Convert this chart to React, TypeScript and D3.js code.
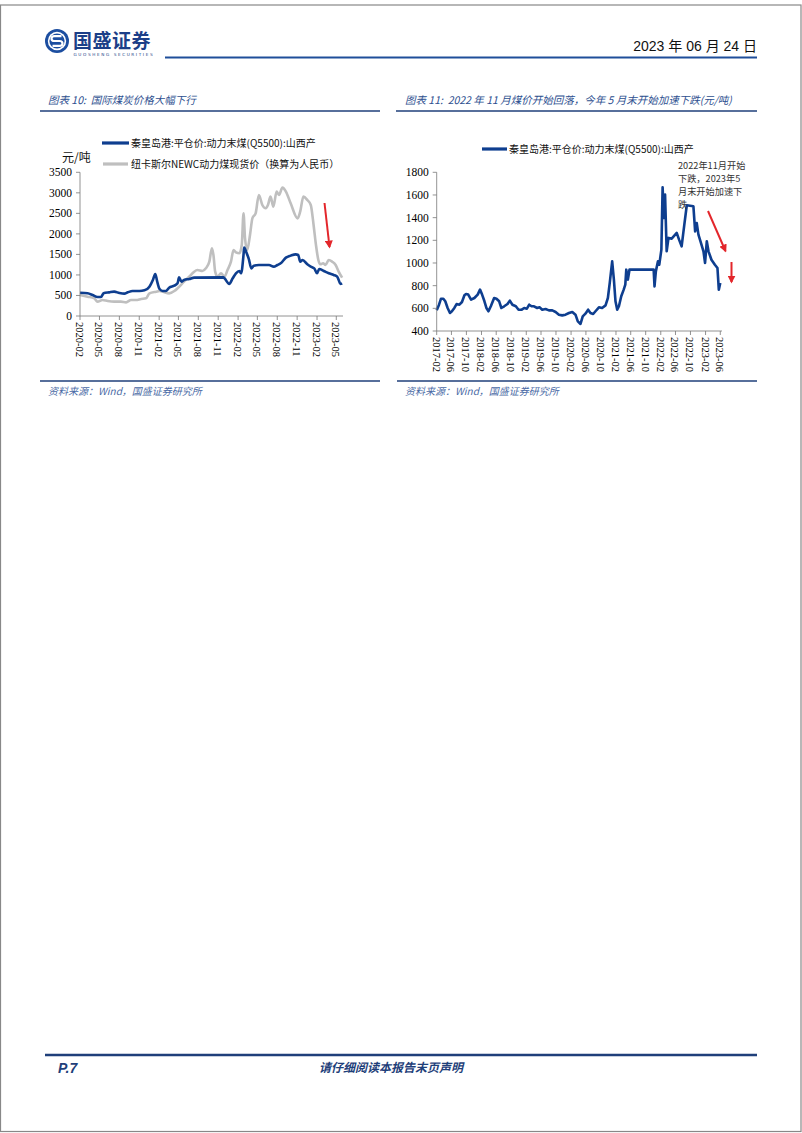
import React from 'react';
import * as d3 from 'd3';

const parse = d3.timeParse('%Y-%m-%d');

// chart 10: monthly-ish readings, 2020-02 .. 2023-05
const qhdDates1 = ['2020-02-01','2020-03-07','2020-03-30','2020-04-22','2020-05-08','2020-05-20','2020-06-15','2020-07-08','2020-08-01','2020-08-24','2020-09-09','2020-10-01','2020-11-02','2020-11-25','2020-12-18','2021-01-03','2021-01-14','2021-01-23','2021-02-03','2021-02-18','2021-03-04','2021-03-19','2021-04-12','2021-04-27','2021-05-04','2021-05-15','2021-05-27','2021-06-20','2021-07-13','2021-11-25','2021-11-30','2021-12-22','2022-01-07','2022-01-22','2022-02-07','2022-02-15','2022-02-26','2022-03-01','2022-03-11','2022-03-23','2022-04-03','2022-04-15','2022-05-08','2022-06-24','2022-07-16','2022-08-02','2022-08-17','2022-09-10','2022-10-02','2022-10-25','2022-11-06','2022-11-15','2022-11-26','2022-12-18','2023-01-03','2023-01-19','2023-02-01','2023-02-11','2023-03-04','2023-03-27','2023-04-19','2023-05-05','2023-05-12','2023-05-20','2023-05-28'];
const qhdValues1 = [568,552,511,463,463,552,576,593,560,544,576,609,609,625,715,877,1023,836,658,609,609,690,739,796,942,836,877,901,934,940,918,780,918,1040,1096,1040,1486,1665,1551,1380,1161,1226,1242,1242,1202,1242,1283,1421,1470,1502,1486,1323,1364,1259,1202,1161,1040,1145,1096,1040,999,958,877,780,796];

const newcDates = ['2020-02-01','2020-03-07','2020-04-07','2020-04-22','2020-05-15','2020-06-08','2020-07-08','2020-08-08','2020-09-01','2020-09-24','2020-10-17','2020-11-10','2020-12-02','2020-12-18','2021-01-18','2021-02-03','2021-02-18','2021-03-19','2021-04-12','2021-04-27','2021-05-27','2021-06-28','2021-07-13','2021-07-28','2021-08-20','2021-09-05','2021-09-21','2021-10-03','2021-10-10','2021-10-18','2021-10-29','2021-11-14','2021-11-30','2021-12-14','2021-12-30','2022-01-11','2022-01-22','2022-02-07','2022-02-18','2022-02-26','2022-03-05','2022-03-15','2022-03-28','2022-04-08','2022-04-23','2022-05-08','2022-05-24','2022-06-09','2022-06-19','2022-07-01','2022-07-14','2022-07-29','2022-08-09','2022-08-25','2022-09-10','2022-10-02','2022-11-03','2022-11-15','2022-11-30','2022-12-18','2023-01-03','2023-01-16','2023-01-27','2023-02-07','2023-02-16','2023-03-01','2023-03-12','2023-03-27','2023-04-12','2023-04-28','2023-05-12','2023-05-28'];
const newcValues = [511,471,430,349,390,365,349,349,333,390,390,414,430,552,593,609,593,552,609,674,836,999,1080,1120,1096,1161,1323,1648,1486,1080,958,1040,958,1120,1323,1608,1551,1527,1730,2501,1892,1608,1973,2379,2501,2948,2704,2623,2704,2907,2663,3029,2948,3126,3029,2745,2379,2542,2907,2826,2704,2217,1730,1364,1259,1283,1242,1364,1323,1242,1080,934];

// chart 11: 2017-02 .. 2023-06
const qhdDates2 = ['2017-02-01','2017-02-20','2017-03-08','2017-03-27','2017-04-12','2017-05-01','2017-05-20','2017-06-05','2017-06-25','2017-07-13','2017-08-05','2017-08-26','2017-09-15','2017-09-28','2017-10-16','2017-11-08','2017-12-05','2018-01-01','2018-01-20','2018-02-06','2018-02-25','2018-03-13','2018-03-30','2018-04-18','2018-05-15','2018-06-03','2018-06-25','2018-07-13','2018-08-05','2018-09-01','2018-09-20','2018-10-11','2018-11-08','2018-11-30','2018-12-26','2019-01-15','2019-02-06','2019-02-25','2019-03-16','2019-04-05','2019-05-01','2019-05-20','2019-06-11','2019-07-08','2019-08-05','2019-09-01','2019-09-28','2019-10-25','2019-11-21','2019-12-18','2020-01-15','2020-02-11','2020-03-08','2020-03-27','2020-04-18','2020-05-06','2020-05-28','2020-06-19','2020-07-08','2020-07-30','2020-08-18','2020-09-15','2020-10-11','2020-11-08','2020-11-27','2020-12-12','2021-01-01','2021-01-15','2021-01-28','2021-02-11','2021-02-25','2021-03-16','2021-04-05','2021-04-18','2021-04-26','2021-05-09','2021-05-22','2021-12-05','2021-12-12','2021-12-23','2022-01-09','2022-01-20','2022-02-06','2022-02-16','2022-02-27','2022-03-08','2022-03-21','2022-04-05','2022-05-01','2022-06-11','2022-06-30','2022-07-21','2022-08-12','2022-09-01','2022-10-25','2022-11-08','2022-11-21','2022-12-05','2022-12-26','2023-01-15','2023-01-28','2023-02-11','2023-02-25','2023-03-21','2023-04-18','2023-05-09','2023-05-20','2023-06-01'];
const qhdValues2 = [582,632,685,685,662,603,559,574,603,638,632,656,715,726,721,676,691,721,765,721,662,603,574,618,691,685,662,603,618,638,668,632,618,588,588,603,597,632,618,618,603,609,588,594,582,582,568,544,538,544,559,568,544,485,462,529,553,588,559,550,574,609,603,626,691,823,1015,853,662,588,618,706,765,809,941,853,941,941,794,926,1015,985,1118,1668,1397,1603,1103,1221,1215,1265,1206,1147,1338,1509,1500,1279,1353,1250,1176,1103,1000,1191,1103,1029,985,956,765,823];

const ticks1 = ['2020-02','2020-05','2020-08','2020-11','2021-02','2021-05','2021-08','2021-11','2022-02','2022-05','2022-08','2022-11','2023-02','2023-05'];
const ticks2 = ['2017-02','2017-06','2017-10','2018-02','2018-06','2018-10','2019-02','2019-06','2019-10','2020-02','2020-06','2020-10','2021-02','2021-06','2021-10','2022-02','2022-06','2022-10','2023-02','2023-06'];
const yTicks1 = [0, 500, 1000, 1500, 2000, 2500, 3000, 3500];
const yTicks2 = [400, 600, 800, 1000, 1200, 1400, 1600, 1800];

const seriesName1 = '秦皇岛港:平仓价:动力末煤(Q5500):山西产';
const seriesName2 = '纽卡斯尔NEWC动力煤现货价（换算为人民币）';
const noteLines = ['2022年11月开始', '下跌，2023年5', '月末开始加速下', '跌'];

const BLUE = '#0e3e8f';
const GRAY = '#bfbfbf';
const NAVY = '#1f3f7a';
const RED = '#e3262b';
const SERIF = '"Liberation Serif", "Noto Sans CJK SC", serif';
const SANS = '"Noto Sans CJK SC", "Noto Sans", sans-serif';

type Pt = { d: Date; v: number };
const zip = (ds: string[], vs: number[]): Pt[] => ds.map((s, i) => ({ d: parse(s) as Date, v: vs[i] }));

const ym = d3.timeParse('%Y-%m');

function TimeChart(props: {
  x: d3.ScaleTime<number, number>;
  y: d3.ScaleLinear<number, number>;
  xTicks: string[];
  yTicks: number[];
  series: { pts: Pt[]; color: string; curve: d3.CurveFactory }[];
}) {
  const { x, y, xTicks, yTicks, series } = props;
  const [x0, x1] = x.range();
  const [yb, yt] = y.range();
  return (
    <g>
      {series.map((s, i) => {
        const line = d3.line<Pt>().x(p => x(p.d)).y(p => y(p.v)).curve(s.curve);
        return <path key={i} d={line(s.pts) || ''} fill="none" stroke={s.color} strokeWidth={2.6} strokeLinejoin="round" />;
      })}
      <line x1={x0} x2={x0} y1={yb} y2={yt} stroke="#777" strokeWidth={0.8} />
      <line x1={x0} x2={x1} y1={yb} y2={yb} stroke="#777" strokeWidth={0.8} />
      {yTicks.map(t => (
        <g key={t}>
          <line x1={x0 - 4} x2={x0} y1={y(t)} y2={y(t)} stroke="#777" strokeWidth={0.8} />
          <text x={x0 - 8} y={y(t) + 4} textAnchor="end" fontFamily={SERIF} fontSize={11.5} fill="#000">{t}</text>
        </g>
      ))}
      {xTicks.map(t => {
        const px = x(ym(t) as Date);
        return (
          <g key={t}>
            <line x1={px} x2={px} y1={yb} y2={yb + 4} stroke="#777" strokeWidth={0.8} />
            <text transform={`translate(${px - 4},${yb + 6}) rotate(90)`} fontFamily={SERIF} fontSize={10.5} fill="#000">{t}</text>
          </g>
        );
      })}
    </g>
  );
}

export default function App() {
  const x1 = d3.scaleTime().domain([parse('2020-02-01') as Date, parse('2023-06-01') as Date]).range([80, 343]);
  const y1 = d3.scaleLinear().domain([0, 3500]).range([316, 172.3]);
  const x2 = d3.scaleTime().domain([parse('2017-02-01') as Date, parse('2023-06-15') as Date]).range([436.7, 722]);
  const y2 = d3.scaleLinear().domain([400, 1800]).range([331, 172.3]);

  return (
    <svg width={802} height={1133} style={{ position: 'absolute', left: 0, top: 0, background: '#fff' }}>
      <defs>
        <marker id="arr" viewBox="0 0 10 10" refX="8" refY="5" markerWidth="4" markerHeight="4" orient="auto">
          <path d="M0,0 L10,5 L0,10 z" fill={RED} />
        </marker>
      </defs>
      <rect x={0.5} y={5} width={800.5} height={1126.5} fill="#fff" stroke="#888" strokeWidth={1.2} />

      {/* header */}
      <g>
        <circle cx={57} cy={41} r={12} fill="#1c4ea0" />
        <circle cx={57} cy={41} r={9.2} fill="#fff" />
        <circle cx={57} cy={41} r={7.6} fill="#1c4ea0" />
        <path d="M61.5,36.2 L54.5,36.2 Q51.5,36.2 51.5,38.7 Q51.5,41 54.5,41 L59.5,41 Q62.5,41 62.5,43.4 Q62.5,45.8 59.5,45.8 L52.5,45.8" fill="none" stroke="#fff" strokeWidth={2.2} />
        <text x={73} y={48} fontFamily={SANS} fontWeight={700} fontSize={19} fill="#1c3f88" letterSpacing={0.5}>国盛证券</text>
        <text x={73.5} y={56} fontFamily='"DejaVu Sans", sans-serif' fontSize={4.2} fill="#1c3f88" letterSpacing={1.6}>GUOSHENG SECURITIES</text>
        <line x1={165} x2={757} y1={57.5} y2={57.5} stroke="#1f4e9a" strokeWidth={2} />
        <text x={757} y={51} textAnchor="end" fontFamily='"Liberation Sans Narrow", "Liberation Sans", "Noto Sans CJK SC", sans-serif' fontSize={14} fill="#111">2023 年 06 月 24 日</text>
      </g>

      {/* titles */}
      <text x={48} y={104} fontFamily={SANS} fontStyle="italic" fontSize={10.5} fill="#2d4f8f" xmlSpace="preserve">图表 10:  国际煤炭价格大幅下行</text>
      <line x1={40} x2={380} y1={111} y2={111} stroke={NAVY} strokeWidth={1.5} />
      <text x={405} y={104} fontFamily={SANS} fontStyle="italic" fontSize={10.5} fill="#2d4f8f" xmlSpace="preserve">图表 11:  2022 年 11 月煤价开始回落，今年 5 月末开始加速下跌(元/吨)</text>
      <line x1={396} x2={757} y1={111} y2={111} stroke={NAVY} strokeWidth={1.5} />

      {/* chart 10 */}
      <line x1={102} x2={129} y1={143} y2={143} stroke={BLUE} strokeWidth={3.2} />
      <text x={131} y={147} fontFamily={SANS} fontSize={10} fill="#111">{seriesName1}</text>
      <line x1={103} x2={128} y1={164} y2={164} stroke={GRAY} strokeWidth={3.2} />
      <text x={131} y={168} fontFamily={SANS} fontSize={10} fill="#111">{seriesName2}</text>
      <text x={62} y={162} fontFamily={SANS} fontSize={12} fill="#111">元/吨</text>
      <TimeChart x={x1} y={y1} xTicks={ticks1} yTicks={yTicks1}
        series={[
          { pts: zip(newcDates, newcValues), color: GRAY, curve: d3.curveMonotoneX },
          { pts: zip(qhdDates1, qhdValues1), color: BLUE, curve: d3.curveMonotoneX },
        ]} />
      <line x1={324.5} y1={203} x2={329.5} y2={247} stroke={RED} strokeWidth={2} markerEnd="url(#arr)" />

      {/* chart 11 */}
      <line x1={482} x2={507} y1={149} y2={149} stroke={BLUE} strokeWidth={3.2} />
      <text x={509} y={153} fontFamily={SANS} fontSize={10} fill="#111">{seriesName1}</text>
      <TimeChart x={x2} y={y2} xTicks={ticks2} yTicks={yTicks2}
        series={[{ pts: zip(qhdDates2, qhdValues2), color: BLUE, curve: d3.curveLinear }]} />
      {noteLines.map((t, i) => (
        <text key={i} x={678} y={169 + i * 13} fontFamily={SANS} fontSize={9.2} fill="#333">{t}</text>
      ))}
      <line x1={708} y1={211} x2={725.5} y2={251} stroke={RED} strokeWidth={2} markerEnd="url(#arr)" />
      <line x1={731.5} y1={262} x2={731.5} y2={282} stroke={RED} strokeWidth={2} markerEnd="url(#arr)" />

      {/* sources */}
      <line x1={40} x2={380} y1={381} y2={381} stroke={NAVY} strokeWidth={1.5} />
      <line x1={397} x2={757} y1={381} y2={381} stroke={NAVY} strokeWidth={1.5} />
      <text x={48} y={395} fontFamily={SANS} fontStyle="italic" fontSize={10} fill="#4a6aa5">资料来源：Wind，国盛证券研究所</text>
      <text x={405} y={395} fontFamily={SANS} fontStyle="italic" fontSize={10} fill="#4a6aa5">资料来源：Wind，国盛证券研究所</text>

      {/* footer */}
      <line x1={45} x2={757} y1={1055} y2={1055} stroke={NAVY} strokeWidth={2.5} />
      <text x={58} y={1073} fontFamily='"Liberation Sans", sans-serif' fontStyle="italic" fontWeight={700} fontSize={14} fill={NAVY}>P.7</text>
      <text x={391} y={1072} textAnchor="middle" fontFamily={SANS} fontStyle="italic" fontWeight={700} fontSize={12} fill={NAVY}>请仔细阅读本报告末页声明</text>
    </svg>
  );
}
